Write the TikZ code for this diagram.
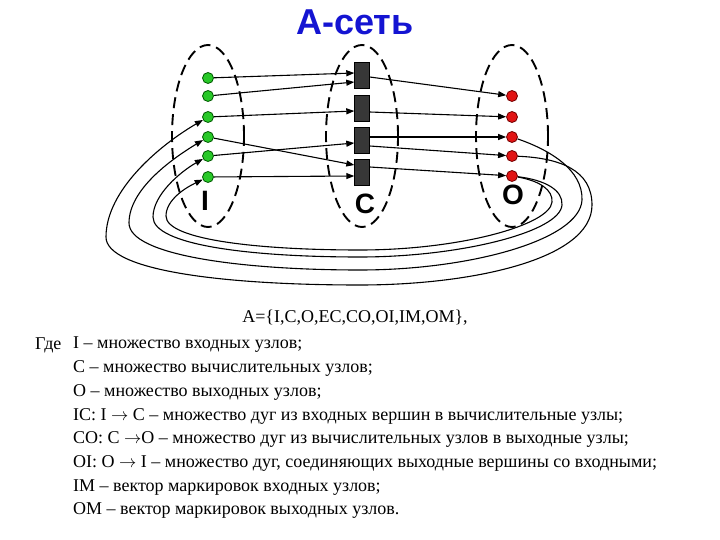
\documentclass[tikz,border=0pt]{standalone}
\usepackage{fontspec}
\setmainfont{Liberation Serif}
\newfontfamily\headfont{Liberation Sans}
\usetikzlibrary{arrows.meta,shapes.geometric}
\definecolor{titleblue}{RGB}{20,20,210}
\definecolor{ingreen}{RGB}{40,200,40}
\definecolor{outred}{RGB}{225,20,20}
\definecolor{cellgray}{RGB}{55,55,55}
\tikzset{
  setell/.style={draw,ellipse,dash pattern=on 11pt off 6pt,line width=1.9pt,minimum width=72pt,minimum height=182pt,inner sep=0pt},
  inpt/.style={circle,draw=green!35!black,fill=ingreen,line width=0.8pt,minimum size=11pt,inner sep=0pt},
  outpt/.style={circle,draw=red!45!black,fill=outred,line width=0.8pt,minimum size=11pt,inner sep=0pt},
  cell/.style={draw=black,fill=cellgray,minimum width=15pt,minimum height=26pt,inner sep=0pt},
  setname/.style={font=\headfont\bfseries\fontsize{28}{28}\selectfont,inner sep=0pt},
  arc/.style={-{Triangle[length=8pt,width=6pt]},line width=1.1pt},
  txt/.style={font=\fontsize{18}{18}\selectfont,anchor=west,inner sep=0pt},
}
\begin{document}
\begin{tikzpicture}[x=1pt,y=-1pt]
  \useasboundingbox (0,0) rectangle (720,540);
  \node[font=\headfont\bfseries\fontsize{36}{36}\selectfont,text=titleblue] (title) at (355,22) {А-сеть};
  % the three sets
  \node[setell] (ellI) at (208,136) {};
  \node[setell] (ellC) at (362,136) {};
  \node[setell] (ellO) at (512,136) {};
  \foreach \y [count=\k] in {78,96,117,137,156,177} \node[inpt] (i\k) at (208,\y) {};
  \foreach \y [count=\k] in {75.5,108,140,172} \node[cell] (c\k) at (362,\y) {};
  \foreach \y [count=\k] in {96,117,137,156,176} \node[outpt] (o\k) at (512,\y) {};
  \node[setname] (labI) at (205,201) {I};
  \node[setname] (labC) at (365,204) {C};
  \node[setname] (labO) at (513,195) {O};
  % arcs I -> C and C -> O
  \foreach \a/\b/\s in {1/1/2.5, 2/1/-6.5, 3/2/-3, 4/4/7, 5/3/-3, 6/4/-4}
    \draw[arc] (i\a) -- ([yshift=\s pt]c\b.west);
  \foreach \a/\s/\b in {1/-1.5/1, 2/-4/2, 3/3/3, 3/-6/4, 4/5/5}
    \draw[arc] ([yshift=\s pt]c\a.east) -- (o\b);
  % arcs O -> I round the bottom
  \draw[arc] (o4) .. controls (560,158) and (592,170) .. (592,205)
    .. controls (592,260) and (470,285) .. (360,285)
    .. controls (220,285) and (106,270) .. (106,237)
    .. controls (106,190) and (160,145) .. (i3);
  \draw[arc] (o3) .. controls (550,150) and (583,170) .. (582,200)
    .. controls (580,240) and (470,270) .. (360,270)
    .. controls (240,270) and (129,255) .. (129,223)
    .. controls (129,190) and (170,160) .. (i4);
  \draw[arc] (o5) .. controls (545,180) and (563,190) .. (562,205)
    .. controls (560,232) and (460,257) .. (360,257)
    .. controls (250,257) and (153,245) .. (153,217)
    .. controls (153,195) and (180,172) .. (i5);
  \draw[arc] (o5) .. controls (540,181) and (553,190) .. (552,202)
    .. controls (550,225) and (460,250) .. (360,250)
    .. controls (260,250) and (166,240) .. (166,216)
    .. controls (166,200) and (185,188) .. (i6);
  % definition text
  \node[font=\fontsize{18}{18}\selectfont] (formula) at (355,318) {A=\{I,C,O,EC,CO,OI,IM,OM\},};
  \node[txt] (where) at (35,345) {Где};
  \foreach \t [count=\k] in {{I – множество входных узлов;},
      {С – множество вычислительных узлов;},
      {О – множество выходных узлов;},
      {IC: I $\rightarrow$ C – множество дуг из входных вершин в вычислительные узлы;},
      {CO: C $\rightarrow$O – множество дуг из вычислительных узлов в выходные узлы;},
      {OI: O $\rightarrow$ I – множество дуг, соединяющих выходные вершины со входными;},
      {IM – вектор маркировок входных узлов;},
      {OM – вектор маркировок выходных узлов.}}
    \node[txt] (line\k) at (73,{345+(\k-1)*23.7}) {\t};
\end{tikzpicture}
\end{document}
